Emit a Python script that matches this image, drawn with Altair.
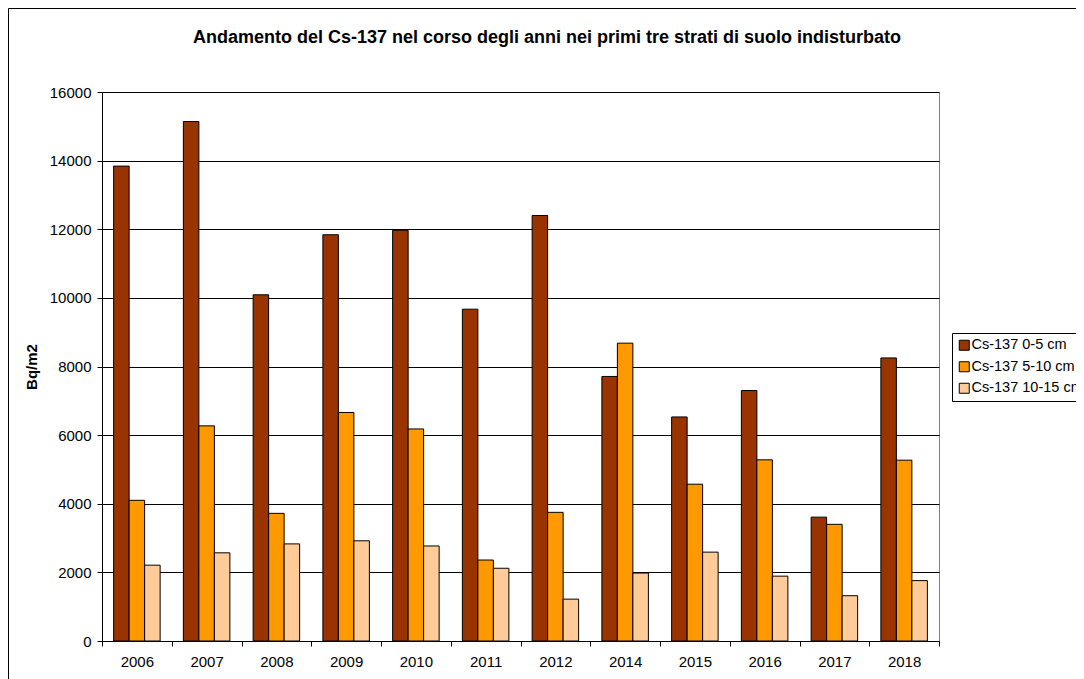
import altair as alt
import pandas as pd

years = ["2006", "2007", "2008", "2009", "2010", "2011", "2012", "2014", "2015", "2016", "2017", "2018"]
series = ["Cs-137 0-5 cm", "Cs-137 5-10 cm", "Cs-137 10-15 cm"]
cs_0_5 = [13840, 15140, 10090, 11840, 11970, 9670, 12400, 7710, 6530, 7300, 3610, 8250]
cs_5_10 = [4100, 6270, 3720, 6660, 6180, 2360, 3750, 8680, 4570, 5280, 3400, 5270]
cs_10_15 = [2210, 2570, 2830, 2920, 2770, 2120, 1220, 1980, 2590, 1890, 1320, 1760]
colors = ["#993300", "#FF9900", "#FFCC99"]
y_ticks = [0, 2000, 4000, 6000, 8000, 10000, 12000, 14000, 16000]
title_text = "Andamento del Cs-137 nel corso degli anni nei primi tre strati di suolo indisturbato"

rows = []
for i, yr in enumerate(years):
    for s, vals in zip(series, [cs_0_5, cs_5_10, cs_10_15]):
        rows.append({"anno": yr, "serie": s, "valore": vals[i]})
df = pd.DataFrame(rows)

W, H = 837, 549
FONT = "Liberation Sans"

bars = alt.Chart(df).mark_bar(stroke="black", strokeWidth=1).encode(
    x=alt.X("anno:N", sort=years,
            scale=alt.Scale(paddingInner=0, paddingOuter=0),
            axis=alt.Axis(title=None, labelAngle=0, tickBand="extent", grid=False,
                          labelPadding=8)),
    xOffset=alt.XOffset("serie:N", sort=series,
                        scale=alt.Scale(paddingInner=0, paddingOuter=0.75)),
    y=alt.Y("valore:Q", scale=alt.Scale(domain=[0, 16000], nice=False),
            axis=alt.Axis(title="Bq/m2", values=y_ticks, format="d", grid=True,
                          labelPadding=6, titlePadding=10, titleFontWeight="bold",
                          titleFontSize=15)),
    color=alt.Color("serie:N", sort=series,
                    scale=alt.Scale(domain=series, range=colors),
                    legend=alt.Legend(title=None, orient="none", legendX=850, legendY=241,
                                      symbolType="square", symbolSize=100,
                                      symbolStrokeColor="black", symbolStrokeWidth=1,
                                      labelFont=FONT, labelFontSize=14.5, labelColor="black",
                                      labelOffset=0, rowPadding=5.5, padding=5,
                                      strokeColor="black", fillColor="white",
                                      labelLimit=300)),
)

frame = alt.Chart(alt.Data(values=[{"k": 1}])).mark_rect(
    fill="transparent", stroke="black", strokeWidth=1
).encode(
    x=alt.value(-93.5), x2=alt.value(W + 400),
    y=alt.value(-83.5), y2=alt.value(H + 300),
)

title = alt.Chart(alt.Data(values=[{"t": title_text}])).mark_text(
    font=FONT, fontSize=18, fontWeight="bold", color="black",
    align="center", baseline="middle"
).encode(
    x=alt.value(445), y=alt.value(-54), text="t:N"
)

chart = alt.layer(bars, frame, title).properties(
    width=W, height=H,
    autosize=alt.AutoSizeParams(type="none"),
    padding={"left": 94, "top": 84, "right": 137, "bottom": 40},
).configure_view(
    stroke="#808080", strokeWidth=1
).configure_axis(
    domainColor="black", tickColor="black", tickSize=5, gridColor="black", gridWidth=1,
    labelFont=FONT, labelFontSize=15, labelColor="black",
    titleFont=FONT, titleColor="black",
)

chart.save("out.html", embed_options={"renderer": "svg", "actions": False})
